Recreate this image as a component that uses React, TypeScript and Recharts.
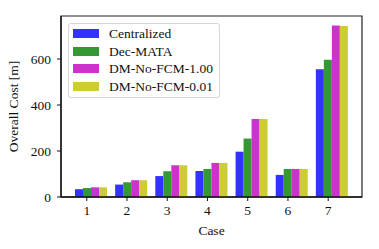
import React from 'react';
import { BarChart, Bar, XAxis, YAxis, ReferenceArea } from 'recharts';

const cases = ['1', '2', '3', '4', '5', '6', '7'];
const caseNums = [1, 2, 3, 4, 5, 6, 7];
const centralized = [34, 54, 91, 113, 197, 96, 555];
const decMata = [39, 64, 112, 122, 254, 122, 597];
const dmFcm100 = [42, 73, 138, 148, 339, 122, 746];
const dmFcm001 = [42, 73, 138, 148, 339, 122, 743];
const yTicks = [0, 200, 400, 600];

const seriesNames = ['Centralized', 'Dec-MATA', 'DM-No-FCM-1.00', 'DM-No-FCM-0.01'];
const seriesKeys = ['c', 'd', 'f1', 'f2'];
const seriesColors = ['#3333ff', '#339933', '#cc33cc', '#cccc33'];

const data = cases.map((name, i) => ({
  name,
  num: caseNums[i],
  c: centralized[i],
  d: decMata[i],
  f1: dmFcm100[i],
  f2: dmFcm001[i],
}));

const FONT = '"Liberation Serif", "DejaVu Serif", serif';
const FS = 13.5;
const tickStyle = { fontFamily: FONT, fontSize: FS, fill: '#111' };

const LegendBox = () => (
  <div
    style={{
      position: 'absolute',
      left: 68,
      top: 23,
      border: '1px solid #d6d6d6',
      borderRadius: 3,
      background: 'rgba(255,255,255,0.8)',
      padding: '1px 6px 2px 4px',
      fontFamily: FONT,
      fontSize: FS,
      color: '#111',
      whiteSpace: 'nowrap',
      lineHeight: 1,
    }}
  >
    {seriesNames.map((n, i) => (
      <div key={n} style={{ display: 'flex', alignItems: 'center', height: 17.6 }}>
        <span
          style={{
            display: 'inline-block',
            width: 26,
            height: 9,
            background: seriesColors[i],
            marginRight: 10,
          }}
        />
        <span>{n}</span>
      </div>
    ))}
  </div>
);

export default function App() {
  return (
    <div style={{ position: 'absolute', left: 0, top: 0, width: 379, height: 249, background: '#fff' }}>
      <BarChart
        width={379}
        height={249}
        data={data}
        margin={{ top: 16, right: 17, bottom: 0, left: 0 }}
        barCategoryGap={4}
        barGap={0}
      >
        <XAxis xAxisId="cat" dataKey="name" type="category" hide height={0} padding={{ left: 10, right: 10 }} />
        <XAxis
          xAxisId="num"
          dataKey="num"
          type="number"
          domain={[0.36, 7.84]}
          ticks={caseNums}
          allowDataOverflow
          height={52}
          tick={tickStyle}
          tickSize={4}
          tickMargin={4}
          stroke="#111"
          axisLine={{ stroke: '#111', strokeWidth: 1.3 }}
          tickLine={{ stroke: '#111', strokeWidth: 1 }}
          label={{ value: 'Case', position: 'insideBottom', offset: 14, style: { fontFamily: FONT, fontSize: FS, fill: '#111' } }}
        />
        <YAxis
          yAxisId="left"
          type="number"
          domain={[0, 787]}
          ticks={yTicks}
          width={61}
          tick={tickStyle}
          tickSize={4}
          tickMargin={6}
          axisLine={{ stroke: '#111', strokeWidth: 1.3 }}
          tickLine={{ stroke: '#111', strokeWidth: 1 }}
          label={{
            value: 'Overall Cost [m]',
            angle: -90,
            position: 'insideLeft',
            offset: 13,
            style: { textAnchor: 'middle', fontFamily: FONT, fontSize: FS, fill: '#111' },
          }}
        />
        {seriesKeys.map((k, i) => (
          <Bar
            key={k}
            dataKey={k}
            name={seriesNames[i]}
            xAxisId="cat"
            yAxisId="left"
            fill={seriesColors[i]}
            isAnimationActive={false}
          />
        ))}
        <ReferenceArea
          xAxisId="num"
          yAxisId="left"
          x1={0.36}
          x2={7.84}
          y1={0}
          y2={787}
          fill="none"
          stroke="#222"
          strokeWidth={1.2}
          ifOverflow="visible"
        />
      </BarChart>
      <LegendBox />
    </div>
  );
}
